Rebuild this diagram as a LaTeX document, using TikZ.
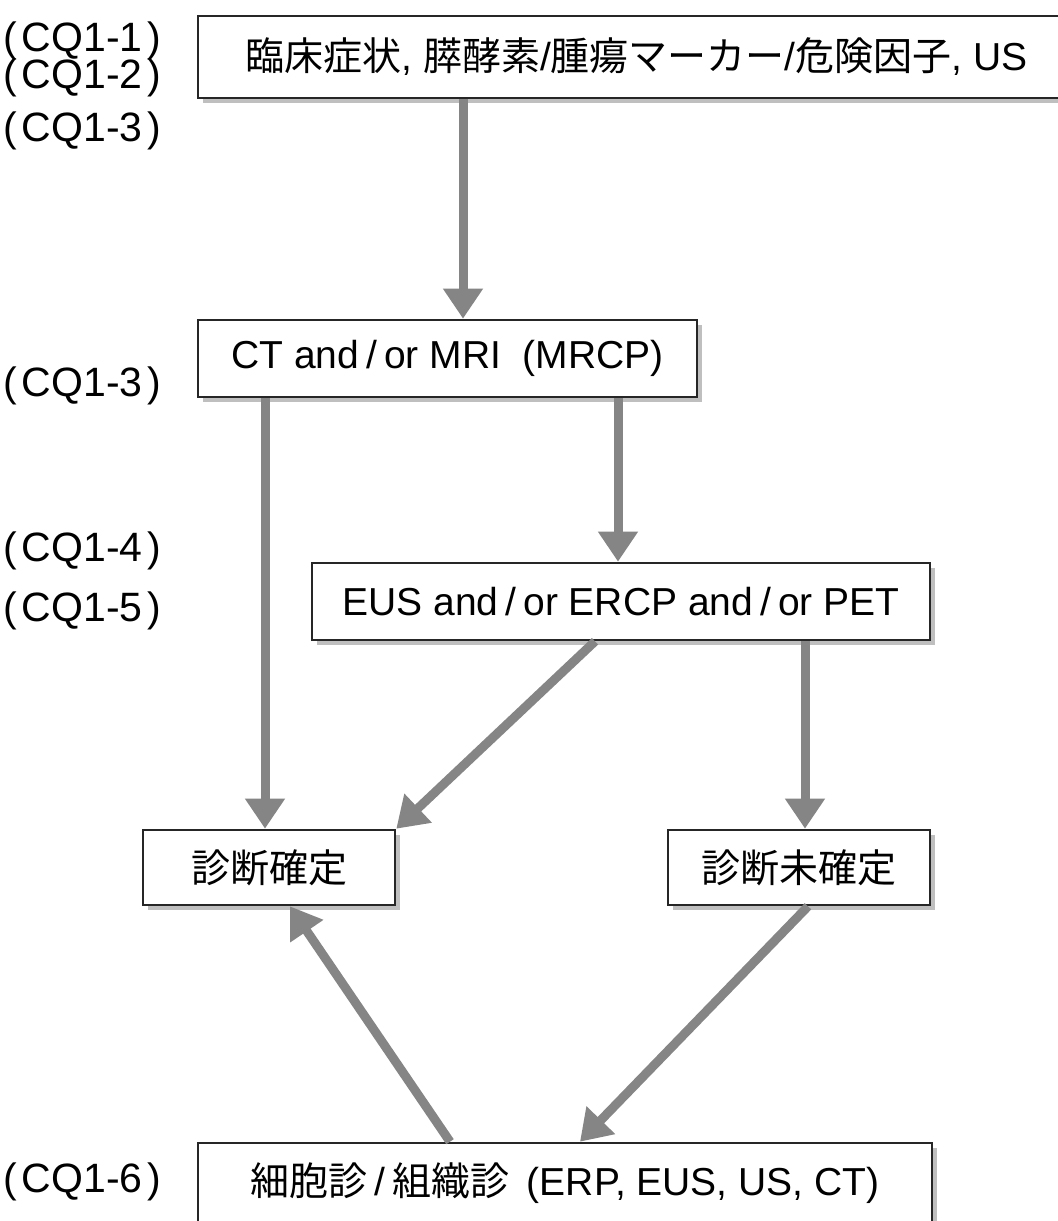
\documentclass[tikz,border=0pt]{standalone}
\usepackage{fontspec}
\setmainfont{Liberation Sans}
\newfontfamily\jp{Noto Sans CJK JP}
\usetikzlibrary{arrows.meta,shadows}
\newcommand{\sls}{\hspace{0.18em}/\hspace{0.18em}}
\newcommand{\cq}[1]{(\hspace{0.12em}CQ1-#1\hspace{0.12em})}
\begin{document}
\begin{tikzpicture}[x=0.5pt,y=-0.5pt,
  txt/.style={font=\fontsize{19.5}{23}\selectfont},
  box/.style={txt, draw=black!85, line width=1.3pt, fill=white, inner sep=0pt,
    drop shadow={shadow xshift=2.5pt, shadow yshift=-2.5pt, fill=black!25, opacity=1}},
  lbl/.style={font=\fontsize{20.5}{22}\selectfont, anchor=west, inner sep=0pt, text height=14pt, text depth=3pt},
  arr/.style={draw=black!48, line width=4.5pt, -{Triangle[width=19pt,length=15pt]}}
]
\clip (0,0) rectangle (1058,1221);
\fill[white] (0,0) rectangle (1058,1221);

% boxes
\node[box, minimum width=438.5pt, minimum height=41pt] (top) at (636.5,57)
  {{\jp 臨床症状}, {\jp 膵酵素}/{\jp 腫瘍マーカー}/{\jp 危険因子}, US};
\node[box, minimum width=249.5pt, minimum height=38.5pt] (ct) at (447.5,358.5)
  {CT and\sls or MRI\hspace{0.55em}(MRCP)};
\node[box, minimum width=309pt, minimum height=38.5pt] (eus) at (621,601.5)
  {EUS and\sls or ERCP and\sls or PET};
\node[box, minimum width=126pt, minimum height=37.5pt] (sure) at (269,867.5)
  {\jp 診断確定};
\node[box, minimum width=131pt, minimum height=37.5pt] (unsure) at (799,867.5)
  {\jp 診断未確定};
\node[box, minimum width=367pt, minimum height=40pt] (bot) at (565,1183)
  {{\jp 細胞診}\sls{\jp 組織診}\hspace{0.45em}(ERP, EUS, US, CT)};

% labels
\node[lbl] (q1) at (3,40) {\cq{1}};
\node[lbl] (q2) at (3,77) {\cq{2}};
\node[lbl] (q3) at (3,130) {\cq{3}};
\node[lbl] (q3b) at (3,385) {\cq{3}};
\node[lbl] (q4) at (3,550) {\cq{4}};
\node[lbl] (q5) at (3,610) {\cq{5}};
\node[lbl] (q6) at (3,1181) {\cq{6}};

% x positions of connectors
\coordinate (x463) at (463,0);
\coordinate (x265) at (265,0);
\coordinate (x618) at (618,0);
\coordinate (x595) at (595,0);
\coordinate (x805) at (805,0);
\coordinate (x450) at (450,0);
\coordinate (x290) at (290,0);
\coordinate (x808) at (808,0);
\coordinate (x580) at (580,0);

% connectors
\draw[arr] (top.south -| x463) -- (ct.north -| x463);
\draw[arr] (ct.south -| x265) -- (sure.north -| x265);
\draw[arr] (ct.south -| x618) -- (eus.north -| x618);
\draw[arr] (eus.south -| x595) -- (sure.north east);
\draw[arr] (eus.south -| x805) -- (unsure.north -| x805);
\draw[arr] (bot.north -| x450) -- (sure.south -| x290);
\draw[arr] (unsure.south -| x808) -- (bot.north -| x580);
\end{tikzpicture}
\end{document}
